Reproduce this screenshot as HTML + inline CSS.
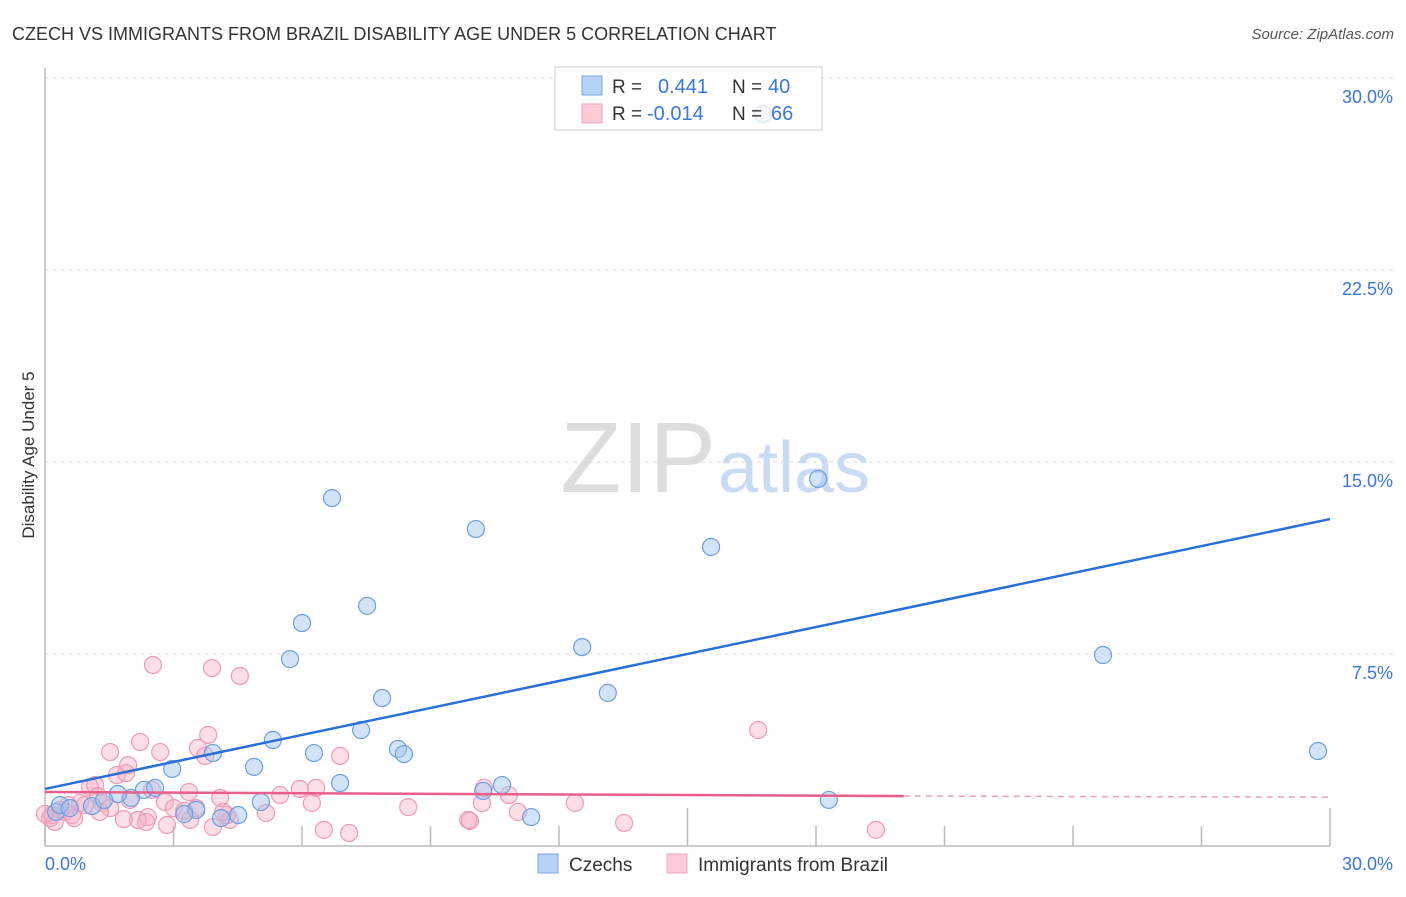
<!DOCTYPE html>
<html><head><meta charset="utf-8"><style>
body{margin:0;background:#fff;font-family:"Liberation Sans",sans-serif;}
svg text{font-family:"Liberation Sans",sans-serif;}
</style></head><body>
<svg id="chart" width="1406" height="892" viewBox="0 0 1406 892">
<text x="12" y="40" font-size="18" fill="#333">CZECH VS IMMIGRANTS FROM BRAZIL DISABILITY AGE UNDER 5 CORRELATION CHART</text>
<text x="1394" y="39" font-size="15" fill="#555" font-style="italic" text-anchor="end">Source: ZipAtlas.com</text>
<text x="34" y="455" font-size="17" fill="#333" transform="rotate(-90 34 455)" text-anchor="middle">Disability Age Under 5</text>
<g id="grid"></g>
<g id="ticks"></g>
<text x="716" y="492" font-size="100" fill="#ddd" text-anchor="end" font-family="Liberation Serif">ZIP</text>
<text x="718" y="492" font-size="72" fill="#c9daf3">atlas</text>
<g>
<rect x="555" y="67" width="267" height="63" fill="#fff" stroke="#ccc"/>
</g>
<g id="marks"></g>
<g>
<rect x="555" y="67" width="267" height="63" fill="rgba(255,255,255,0.75)" stroke="#ccc"/>
<rect x="582" y="76" width="20" height="19" fill="#b8d2f6" stroke="#7aa6e6"/>
<rect x="582" y="104" width="20" height="19" fill="#fbcbd8" stroke="#f2a3bb"/>
<text x="612" y="93" font-size="19" fill="#333">R = </text><text x="658" y="93" font-size="20" fill="#3a77d6">0.441</text>
<text x="732" y="93" font-size="19" fill="#333">N = </text><text x="768" y="93" font-size="20" fill="#3a77d6">40</text>
<text x="612" y="120" font-size="19" fill="#333">R = </text><text x="647" y="120" font-size="20" fill="#3a77d6">-0.014</text>
<text x="732" y="120" font-size="19" fill="#333">N = </text><text x="771" y="120" font-size="20" fill="#3a77d6">66</text>
</g>
<g>
<rect x="538" y="854" width="20" height="19" fill="#b8d2f6" stroke="#7aa6e6"/>
<text x="569" y="871" font-size="19" fill="#333">Czechs</text>
<rect x="667" y="854" width="20" height="19" fill="#fbcbd8" stroke="#f2a3bb"/>
<text x="698" y="871" font-size="19" fill="#333">Immigrants from Brazil</text>
</g>
</svg>
<script>
const yTickValues=[7.5,15,22.5,30];
const yTickLabels=["7.5%","15.0%","22.5%","30.0%"];
const xTickValues=[0,3,6,9,12,15,18,21,24,27,30];
const czechX=[6.70,10.06,18.05,15.55,7.52,6.00,5.72,12.54,24.70,13.14,7.87,7.38,5.32,3.92,4.88,6.28,8.24,8.38,2.97,6.89,10.67,10.23,2.31,2.57,2.01,1.70,5.04,3.53,3.25,4.51,18.30,29.72,11.35,4.11,0.26,0.35,0.58,1.10,1.38,16.76];
const czechY=[13.59,12.38,14.34,11.68,9.38,8.71,7.30,7.77,7.46,5.98,5.78,4.53,4.14,3.63,3.09,3.63,3.79,3.59,3.01,2.46,2.38,2.15,2.19,2.27,1.88,2.03,1.72,1.41,1.25,1.21,1.80,3.71,1.13,1.09,1.33,1.60,1.48,1.56,1.80,28.59];
const brazilX=[2.52,3.90,4.55,16.65,3.81,1.52,2.22,2.69,3.57,3.74,1.94,1.68,1.89,1.05,1.17,2.50,3.36,5.95,6.33,6.89,10.25,10.83,12.37,8.48,6.23,4.09,2.80,3.01,1.33,0.82,1.24,3.53,2.40,2.17,1.84,2.36,2.85,3.92,4.32,5.16,4.25,6.51,7.10,9.88,9.92,13.52,19.40,11.04,10.20,0.35,0.16,0.12,0.23,0.47,0.63,0.93,0.54,1.52,3.25,4.16,5.49,3.39,1.28,1.98,0.68,0.0];
const brazilY=[7.07,6.95,6.64,4.53,4.34,3.67,4.06,3.67,3.83,3.52,3.16,2.77,2.85,2.30,2.38,2.19,2.11,2.23,2.27,3.52,2.27,1.99,1.68,1.52,1.68,1.88,1.72,1.48,1.68,1.68,1.95,1.48,1.13,1.02,1.05,0.94,0.82,0.74,1.02,1.29,1.21,0.63,0.51,1.02,0.98,0.90,0.63,1.33,1.68,1.41,1.21,1.09,0.94,1.33,1.21,1.60,1.60,1.48,1.37,1.33,1.99,1.02,1.33,1.80,1.09,1.25];
const czechTrend=[2.23,12.77];
const brazilTrend=[2.11,1.95,1.91];
const brazilTrendEndX=20.05;

const NS="http://www.w3.org/2000/svg";
const X=v=>45+v/30*1285;
const Y=v=>846-v/7.5*192;
function mk(tag,attrs,parent){const e=document.createElementNS(NS,tag);for(const k in attrs)e.setAttribute(k,attrs[k]);parent.appendChild(e);return e;}
const grid=document.getElementById('grid'),ticks=document.getElementById('ticks'),marks=document.getElementById('marks');
yTickValues.forEach((v,i)=>{
 const l=mk('line',{x1:45,x2:1393,y1:Y(v),y2:Y(v),stroke:'#ddd','stroke-dasharray':'4,4'},grid);
 
 
 const t=mk('text',{x:1393,y:Y(v)+25,'font-size':18,fill:'#3a77d6','text-anchor':'end'},ticks);
 t.textContent=yTickLabels[i];
 
 
});
const ax=mk('line',{x1:45,x2:45,y1:68,y2:846,stroke:'#bbb','stroke-width':1.5},grid);


const bx=mk('line',{x1:45,x2:1330,y1:846,y2:846,stroke:'#bbb','stroke-width':1.5},grid);


xTickValues.forEach((v,i)=>{
 const tall=(v===15||v===30);
 const tl=mk('line',{x1:X(v),x2:X(v),y1:(tall? 808:826),y2:846,stroke:'#bbb','stroke-width':1.5},ticks);
 
 
});
const xl0=mk('text',{x:45,y:870,'font-size':18,fill:'#3a77d6'},ticks);xl0.textContent='0.0%';


const xl1=mk('text',{x:1393,y:870,'font-size':18,fill:'#3a77d6','text-anchor':'end'},ticks);xl1.textContent='30.0%';


brazilX.forEach((v,i)=>{
 const c=mk('circle',{cx:X(v),cy:Y(brazilY[i]),r:8.5,fill:'rgba(247,172,196,0.4)',stroke:'#f09ab4','stroke-width':1.2},marks);
 
 
});
czechX.forEach((v,i)=>{
 const c=mk('circle',{cx:X(v),cy:Y(czechY[i]),r:8.5,fill:'rgba(160,196,240,0.45)',stroke:'#6e9fe0','stroke-width':1.2},marks);
 
 
});
const bt=mk('line',{x1:X(0),y1:Y(czechTrend[0]),x2:X(30),y2:Y(czechTrend[1]),stroke:'#2a6fd6','stroke-width':2.5},marks);


const pt=mk('line',{x1:X(0),y1:Y(brazilTrend[0]),x2:X(brazilTrendEndX),y2:Y(brazilTrend[1]),stroke:'#e8608a','stroke-width':2.5},marks);


const pd=mk('line',{x1:X(brazilTrendEndX),y1:Y(brazilTrend[1]),x2:X(30),y2:Y(brazilTrend[2]),stroke:'#e8a0b6','stroke-width':1.5,'stroke-dasharray':'6,5'},marks);


</script>
</body></html>
